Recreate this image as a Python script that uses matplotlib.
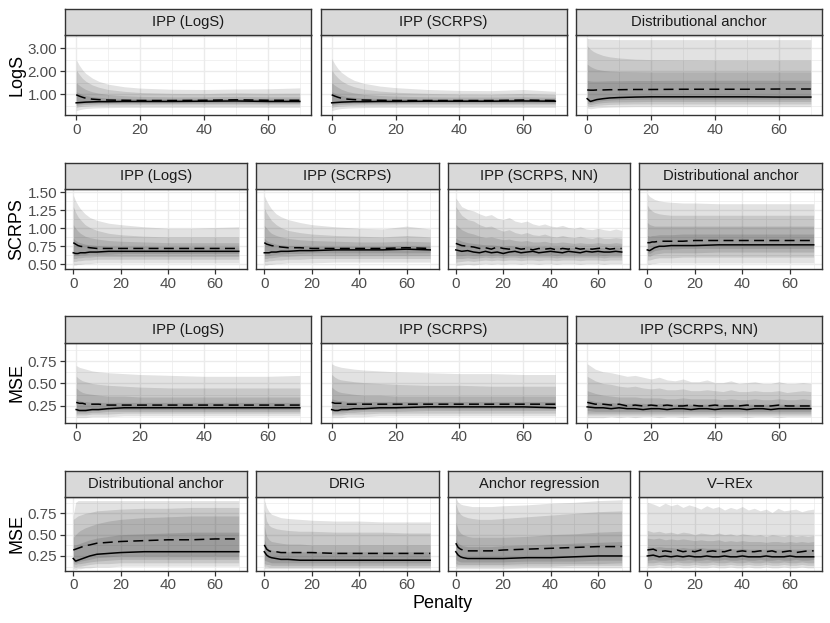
import matplotlib.pyplot as plt
from matplotlib.ticker import FixedLocator, FormatStrFormatter

plt.rcParams['font.family'] = ['Liberation Sans', 'DejaVu Sans']

# Penalty grid (smooth fits) and the finer grid of the neural-net / V-REx runs
penalty = [0, 1, 2, 3, 5, 7, 10, 15, 20, 30, 40, 50, 60, 70]
penalty_nn = [0, 2.5, 5, 7.5, 10, 12.5, 15, 17.5, 20, 22.5, 25, 27.5, 30, 32.5,
              35, 37.5, 40, 42.5, 45, 47.5, 50, 52.5, 55, 57.5, 60, 62.5, 65, 67.5, 70]

row_labels = ['LogS', 'SCRPS', 'MSE', 'MSE']
row1_titles = ['IPP (LogS)', 'IPP (SCRPS)', 'Distributional anchor']
row2_titles = ['IPP (LogS)', 'IPP (SCRPS)', 'IPP (SCRPS, NN)', 'Distributional anchor']
row3_titles = ['IPP (LogS)', 'IPP (SCRPS)', 'IPP (SCRPS, NN)']
row4_titles = ['Distributional anchor', 'DRIG', 'Anchor regression', 'V\u2212REx']

# ---------- row 1: LogS ----------
# quantile bands, outer to inner
logs_ipp_logs_upper = [
    [2.50, 2.25, 2.05, 1.90, 1.70, 1.56, 1.43, 1.32, 1.26, 1.21, 1.20, 1.22, 1.23, 1.27],
    [2.05, 1.85, 1.68, 1.56, 1.40, 1.30, 1.20, 1.12, 1.07, 1.03, 1.02, 1.05, 1.03, 1.04],
    [1.50, 1.38, 1.28, 1.20, 1.10, 1.04, 0.98, 0.93, 0.90, 0.88, 0.88, 0.90, 0.88, 0.88],
    [1.10, 1.03, 0.98, 0.94, 0.89, 0.86, 0.83, 0.81, 0.80, 0.79, 0.79, 0.81, 0.79, 0.79]]
logs_ipp_logs_lower = [
    [0.28, 0.32, 0.35, 0.37, 0.39, 0.40, 0.41, 0.42, 0.42, 0.42, 0.42, 0.42, 0.42, 0.42],
    [0.42, 0.45, 0.47, 0.48, 0.50, 0.51, 0.52, 0.52, 0.53, 0.53, 0.53, 0.53, 0.53, 0.53],
    [0.50, 0.52, 0.54, 0.55, 0.56, 0.57, 0.58, 0.58, 0.58, 0.59, 0.59, 0.59, 0.59, 0.59],
    [0.56, 0.58, 0.59, 0.60, 0.61, 0.62, 0.62, 0.63, 0.63, 0.63, 0.63, 0.64, 0.63, 0.63]]
logs_ipp_logs_median = [0.62, 0.63, 0.64, 0.65, 0.66, 0.67, 0.67, 0.68, 0.68, 0.68, 0.69, 0.70, 0.68, 0.68]
logs_ipp_logs_mean = [0.97, 0.91, 0.86, 0.82, 0.78, 0.76, 0.74, 0.73, 0.72, 0.72, 0.73, 0.75, 0.73, 0.73]

logs_ipp_scrps_upper = [
    [2.55, 2.30, 2.10, 1.95, 1.75, 1.60, 1.47, 1.35, 1.28, 1.20, 1.16, 1.15, 1.20, 1.12],
    [2.05, 1.85, 1.70, 1.58, 1.42, 1.32, 1.22, 1.13, 1.08, 1.03, 1.00, 0.99, 1.03, 0.98],
    [1.50, 1.38, 1.29, 1.21, 1.11, 1.05, 0.99, 0.94, 0.91, 0.88, 0.87, 0.87, 0.88, 0.86],
    [1.10, 1.03, 0.98, 0.94, 0.89, 0.86, 0.83, 0.81, 0.80, 0.79, 0.78, 0.78, 0.79, 0.78]]
logs_ipp_scrps_lower = [
    [0.28, 0.32, 0.35, 0.37, 0.39, 0.40, 0.41, 0.42, 0.42, 0.42, 0.42, 0.42, 0.42, 0.42],
    [0.42, 0.45, 0.47, 0.48, 0.50, 0.51, 0.52, 0.52, 0.53, 0.53, 0.53, 0.53, 0.53, 0.53],
    [0.50, 0.52, 0.54, 0.55, 0.56, 0.57, 0.58, 0.58, 0.59, 0.59, 0.59, 0.59, 0.59, 0.59],
    [0.56, 0.58, 0.59, 0.60, 0.61, 0.62, 0.62, 0.63, 0.63, 0.64, 0.64, 0.64, 0.64, 0.64]]
logs_ipp_scrps_median = [0.62, 0.63, 0.64, 0.65, 0.66, 0.67, 0.67, 0.68, 0.68, 0.69, 0.69, 0.69, 0.70, 0.69]
logs_ipp_scrps_mean = [0.97, 0.91, 0.86, 0.82, 0.78, 0.76, 0.74, 0.73, 0.72, 0.72, 0.72, 0.72, 0.74, 0.72]

logs_anchor_upper = [
    [3.42, 3.40, 3.39, 3.39, 3.38, 3.38, 3.37, 3.37, 3.37, 3.37, 3.37, 3.37, 3.37, 3.37],
    [3.10, 2.95, 2.85, 2.78, 2.68, 2.62, 2.57, 2.52, 2.50, 2.49, 2.48, 2.48, 2.48, 2.48],
    [2.30, 2.20, 2.13, 2.08, 2.03, 2.00, 1.98, 1.97, 1.96, 1.96, 1.96, 1.96, 1.96, 1.96],
    [1.60, 1.57, 1.56, 1.56, 1.57, 1.58, 1.58, 1.59, 1.59, 1.60, 1.60, 1.60, 1.60, 1.60]]
logs_anchor_lower = [
    [0.40, 0.36, 0.38, 0.40, 0.42, 0.43, 0.44, 0.45, 0.45, 0.45, 0.45, 0.45, 0.45, 0.45],
    [0.50, 0.46, 0.49, 0.51, 0.53, 0.55, 0.56, 0.57, 0.57, 0.57, 0.57, 0.57, 0.57, 0.57],
    [0.60, 0.54, 0.57, 0.60, 0.63, 0.65, 0.66, 0.67, 0.68, 0.68, 0.68, 0.68, 0.68, 0.68],
    [0.70, 0.62, 0.65, 0.68, 0.72, 0.74, 0.76, 0.77, 0.78, 0.78, 0.78, 0.78, 0.78, 0.78]]
logs_anchor_median = [0.80, 0.68, 0.72, 0.76, 0.80, 0.83, 0.85, 0.87, 0.88, 0.88, 0.88, 0.88, 0.87, 0.87]
logs_anchor_mean = [1.18, 1.17, 1.17, 1.18, 1.18, 1.19, 1.19, 1.20, 1.20, 1.21, 1.21, 1.21, 1.22, 1.22]

# ---------- row 2: SCRPS ----------
scrps_ipp_logs_upper = [
    [1.46, 1.38, 1.32, 1.27, 1.20, 1.15, 1.11, 1.07, 1.05, 1.02, 1.00, 1.00, 1.01, 1.02],
    [1.30, 1.22, 1.16, 1.12, 1.05, 1.01, 0.97, 0.93, 0.91, 0.89, 0.88, 0.88, 0.88, 0.88],
    [1.05, 1.00, 0.96, 0.93, 0.89, 0.87, 0.85, 0.83, 0.82, 0.81, 0.80, 0.80, 0.80, 0.80],
    [0.86, 0.83, 0.81, 0.80, 0.78, 0.77, 0.76, 0.75, 0.75, 0.75, 0.74, 0.74, 0.74, 0.74]]
scrps_ipp_logs_lower = [
    [0.49, 0.49, 0.50, 0.50, 0.51, 0.51, 0.52, 0.52, 0.52, 0.52, 0.52, 0.52, 0.52, 0.52],
    [0.54, 0.54, 0.55, 0.55, 0.56, 0.56, 0.57, 0.57, 0.57, 0.57, 0.57, 0.57, 0.57, 0.57],
    [0.58, 0.58, 0.59, 0.59, 0.60, 0.60, 0.61, 0.61, 0.61, 0.61, 0.61, 0.61, 0.61, 0.61],
    [0.62, 0.62, 0.62, 0.63, 0.63, 0.64, 0.64, 0.64, 0.65, 0.65, 0.65, 0.65, 0.65, 0.65]]
scrps_ipp_logs_median = [0.66, 0.65, 0.65, 0.66, 0.66, 0.67, 0.67, 0.68, 0.68, 0.68, 0.68, 0.68, 0.68, 0.68]
scrps_ipp_logs_mean = [0.80, 0.78, 0.76, 0.75, 0.74, 0.73, 0.72, 0.72, 0.72, 0.72, 0.72, 0.72, 0.72, 0.72]

scrps_ipp_scrps_upper = [
    [1.45, 1.38, 1.32, 1.27, 1.20, 1.16, 1.12, 1.08, 1.05, 1.02, 1.00, 0.99, 1.03, 0.99],
    [1.28, 1.21, 1.16, 1.11, 1.05, 1.01, 0.97, 0.94, 0.92, 0.90, 0.89, 0.88, 0.90, 0.88],
    [1.04, 1.00, 0.96, 0.93, 0.90, 0.88, 0.86, 0.84, 0.83, 0.82, 0.81, 0.81, 0.82, 0.81],
    [0.86, 0.83, 0.81, 0.80, 0.78, 0.77, 0.76, 0.76, 0.75, 0.75, 0.75, 0.75, 0.76, 0.75]]
scrps_ipp_scrps_lower = [
    [0.49, 0.49, 0.50, 0.50, 0.51, 0.51, 0.52, 0.52, 0.52, 0.53, 0.53, 0.53, 0.53, 0.53],
    [0.54, 0.54, 0.55, 0.55, 0.56, 0.56, 0.57, 0.57, 0.58, 0.58, 0.58, 0.58, 0.58, 0.58],
    [0.58, 0.58, 0.59, 0.59, 0.60, 0.61, 0.61, 0.62, 0.62, 0.62, 0.62, 0.62, 0.62, 0.62],
    [0.62, 0.62, 0.62, 0.63, 0.64, 0.64, 0.65, 0.65, 0.66, 0.66, 0.66, 0.66, 0.66, 0.66]]
scrps_ipp_scrps_median = [0.66, 0.66, 0.66, 0.67, 0.67, 0.68, 0.68, 0.69, 0.69, 0.70, 0.70, 0.70, 0.71, 0.70]
scrps_ipp_scrps_mean = [0.80, 0.78, 0.77, 0.76, 0.75, 0.74, 0.73, 0.73, 0.72, 0.72, 0.72, 0.72, 0.73, 0.72]

scrps_nn_upper = [
    [1.42, 1.30, 1.26, 1.24, 1.20, 1.17, 1.19, 1.14, 1.12, 1.15, 1.10, 1.08, 1.10, 1.06, 1.04,
     1.06, 1.03, 1.02, 1.04, 1.01, 1.00, 1.02, 0.99, 0.98, 1.00, 0.98, 0.97, 0.99, 0.97],
    [1.30, 1.18, 1.12, 1.10, 1.05, 1.02, 1.03, 0.99, 0.96, 0.98, 0.94, 0.92, 0.94, 0.91, 0.90,
     0.92, 0.89, 0.88, 0.90, 0.88, 0.87, 0.89, 0.87, 0.86, 0.88, 0.86, 0.86, 0.87, 0.86],
    [1.05, 0.98, 0.94, 0.92, 0.89, 0.87, 0.88, 0.86, 0.84, 0.85, 0.83, 0.82, 0.83, 0.81, 0.81,
     0.82, 0.80, 0.80, 0.81, 0.80, 0.79, 0.80, 0.79, 0.79, 0.80, 0.79, 0.79, 0.80, 0.79],
    [0.86, 0.82, 0.80, 0.79, 0.78, 0.77, 0.77, 0.76, 0.75, 0.76, 0.75, 0.74, 0.75, 0.74, 0.74,
     0.75, 0.74, 0.74, 0.74, 0.74, 0.73, 0.74, 0.73, 0.73, 0.74, 0.73, 0.73, 0.74, 0.73]]
scrps_nn_lower = [
    [0.48, 0.49, 0.50, 0.49, 0.50, 0.51, 0.50, 0.51, 0.50, 0.51, 0.51, 0.50, 0.51, 0.51, 0.50,
     0.51, 0.51, 0.50, 0.51, 0.51, 0.51, 0.50, 0.51, 0.51, 0.51, 0.50, 0.51, 0.51, 0.51],
    [0.53, 0.54, 0.55, 0.54, 0.55, 0.56, 0.55, 0.56, 0.55, 0.56, 0.56, 0.55, 0.56, 0.56, 0.55,
     0.56, 0.56, 0.55, 0.56, 0.56, 0.56, 0.55, 0.56, 0.56, 0.56, 0.55, 0.56, 0.56, 0.56],
    [0.58, 0.58, 0.59, 0.58, 0.59, 0.60, 0.59, 0.60, 0.59, 0.60, 0.60, 0.59, 0.60, 0.60, 0.60,
     0.60, 0.60, 0.59, 0.60, 0.60, 0.60, 0.60, 0.60, 0.60, 0.60, 0.59, 0.60, 0.60, 0.60],
    [0.62, 0.62, 0.63, 0.62, 0.62, 0.63, 0.62, 0.63, 0.62, 0.63, 0.63, 0.62, 0.63, 0.63, 0.63,
     0.63, 0.63, 0.62, 0.63, 0.63, 0.63, 0.63, 0.63, 0.63, 0.63, 0.62, 0.63, 0.63, 0.63]]
scrps_nn_median = [0.70, 0.68, 0.69, 0.67, 0.66, 0.68, 0.66, 0.67, 0.65, 0.67, 0.68, 0.66, 0.67, 0.68, 0.66,
                   0.67, 0.68, 0.67, 0.66, 0.68, 0.67, 0.66, 0.68, 0.67, 0.68, 0.67, 0.67, 0.68, 0.67]
scrps_nn_mean = [0.79, 0.76, 0.75, 0.74, 0.72, 0.73, 0.71, 0.74, 0.72, 0.71, 0.73, 0.71, 0.72, 0.70, 0.72,
                 0.71, 0.72, 0.70, 0.72, 0.71, 0.73, 0.71, 0.72, 0.71, 0.72, 0.73, 0.71, 0.72, 0.72]

scrps_anchor_upper = [
    [1.48, 1.44, 1.42, 1.40, 1.38, 1.37, 1.36, 1.35, 1.35, 1.34, 1.34, 1.34, 1.34, 1.34],
    [1.32, 1.27, 1.24, 1.22, 1.20, 1.19, 1.18, 1.18, 1.18, 1.18, 1.18, 1.18, 1.18, 1.18],
    [1.08, 1.05, 1.04, 1.03, 1.03, 1.03, 1.03, 1.03, 1.03, 1.03, 1.03, 1.03, 1.03, 1.03],
    [0.90, 0.89, 0.90, 0.90, 0.91, 0.91, 0.91, 0.92, 0.92, 0.92, 0.92, 0.92, 0.92, 0.92]]
scrps_anchor_lower = [
    [0.50, 0.50, 0.51, 0.51, 0.52, 0.52, 0.52, 0.52, 0.52, 0.52, 0.52, 0.52, 0.52, 0.52],
    [0.56, 0.56, 0.57, 0.58, 0.59, 0.59, 0.59, 0.60, 0.60, 0.60, 0.60, 0.60, 0.60, 0.60],
    [0.62, 0.61, 0.63, 0.64, 0.65, 0.66, 0.66, 0.66, 0.66, 0.67, 0.67, 0.67, 0.67, 0.67],
    [0.66, 0.65, 0.67, 0.69, 0.70, 0.71, 0.71, 0.72, 0.72, 0.72, 0.72, 0.72, 0.72, 0.72]]
scrps_anchor_median = [0.70, 0.69, 0.71, 0.73, 0.75, 0.75, 0.76, 0.76, 0.76, 0.77, 0.77, 0.77, 0.77, 0.77]
scrps_anchor_mean = [0.80, 0.80, 0.81, 0.81, 0.82, 0.82, 0.82, 0.82, 0.83, 0.83, 0.83, 0.83, 0.83, 0.83]

# ---------- row 3: MSE (IPP variants) ----------
mse_ipp_logs_upper = [
    [0.70, 0.68, 0.67, 0.66, 0.64, 0.63, 0.62, 0.61, 0.60, 0.59, 0.58, 0.58, 0.58, 0.59],
    [0.58, 0.55, 0.53, 0.52, 0.50, 0.49, 0.48, 0.47, 0.46, 0.45, 0.45, 0.45, 0.45, 0.45],
    [0.45, 0.42, 0.40, 0.39, 0.38, 0.37, 0.36, 0.36, 0.35, 0.35, 0.35, 0.35, 0.35, 0.35],
    [0.33, 0.31, 0.30, 0.30, 0.29, 0.29, 0.29, 0.29, 0.29, 0.29, 0.29, 0.29, 0.29, 0.29]]
mse_ipp_logs_lower = [
    [0.12, 0.12, 0.12, 0.12, 0.13, 0.13, 0.13, 0.14, 0.14, 0.14, 0.14, 0.14, 0.14, 0.14],
    [0.15, 0.15, 0.15, 0.15, 0.16, 0.16, 0.16, 0.17, 0.17, 0.17, 0.17, 0.17, 0.17, 0.17],
    [0.17, 0.17, 0.17, 0.17, 0.18, 0.18, 0.19, 0.19, 0.19, 0.19, 0.19, 0.19, 0.19, 0.19],
    [0.19, 0.19, 0.19, 0.19, 0.20, 0.20, 0.21, 0.21, 0.21, 0.21, 0.21, 0.21, 0.21, 0.21]]
mse_ipp_logs_median = [0.21, 0.20, 0.20, 0.20, 0.21, 0.21, 0.22, 0.23, 0.23, 0.23, 0.23, 0.23, 0.23, 0.23]
mse_ipp_logs_mean = [0.29, 0.28, 0.28, 0.27, 0.27, 0.27, 0.26, 0.26, 0.26, 0.26, 0.26, 0.26, 0.26, 0.26]

mse_ipp_scrps_upper = [
    [0.72, 0.70, 0.69, 0.68, 0.67, 0.66, 0.65, 0.64, 0.63, 0.62, 0.61, 0.61, 0.60, 0.60],
    [0.60, 0.57, 0.55, 0.54, 0.53, 0.52, 0.51, 0.50, 0.49, 0.48, 0.48, 0.47, 0.47, 0.47],
    [0.46, 0.43, 0.41, 0.40, 0.39, 0.38, 0.37, 0.37, 0.36, 0.36, 0.36, 0.36, 0.36, 0.36],
    [0.33, 0.32, 0.31, 0.31, 0.30, 0.30, 0.30, 0.30, 0.30, 0.30, 0.30, 0.30, 0.30, 0.30]]
mse_ipp_scrps_lower = [
    [0.12, 0.12, 0.12, 0.12, 0.13, 0.13, 0.13, 0.14, 0.14, 0.14, 0.14, 0.14, 0.14, 0.14],
    [0.15, 0.15, 0.15, 0.15, 0.16, 0.16, 0.16, 0.17, 0.17, 0.17, 0.17, 0.17, 0.17, 0.17],
    [0.17, 0.17, 0.17, 0.17, 0.18, 0.18, 0.19, 0.19, 0.19, 0.20, 0.20, 0.20, 0.20, 0.20],
    [0.19, 0.19, 0.19, 0.19, 0.20, 0.20, 0.21, 0.21, 0.22, 0.22, 0.22, 0.22, 0.22, 0.22]]
mse_ipp_scrps_median = [0.21, 0.20, 0.20, 0.21, 0.21, 0.22, 0.22, 0.23, 0.23, 0.24, 0.24, 0.24, 0.24, 0.23]
mse_ipp_scrps_mean = [0.29, 0.28, 0.28, 0.28, 0.27, 0.27, 0.27, 0.27, 0.27, 0.27, 0.27, 0.27, 0.27, 0.27]

mse_nn_upper = [
    [0.72, 0.66, 0.63, 0.62, 0.60, 0.58, 0.59, 0.57, 0.55, 0.57, 0.54, 0.53, 0.55, 0.52, 0.52,
     0.54, 0.51, 0.51, 0.53, 0.50, 0.51, 0.52, 0.50, 0.50, 0.52, 0.50, 0.50, 0.51, 0.50],
    [0.58, 0.53, 0.50, 0.49, 0.47, 0.46, 0.47, 0.45, 0.44, 0.45, 0.43, 0.43, 0.44, 0.42, 0.42,
     0.43, 0.42, 0.41, 0.43, 0.41, 0.41, 0.42, 0.41, 0.41, 0.42, 0.40, 0.41, 0.42, 0.41],
    [0.42, 0.39, 0.37, 0.36, 0.35, 0.35, 0.35, 0.34, 0.34, 0.34, 0.33, 0.33, 0.34, 0.33, 0.33,
     0.33, 0.33, 0.32, 0.33, 0.32, 0.32, 0.33, 0.32, 0.32, 0.33, 0.32, 0.32, 0.33, 0.32],
    [0.32, 0.30, 0.29, 0.29, 0.28, 0.28, 0.28, 0.28, 0.27, 0.28, 0.27, 0.27, 0.28, 0.27, 0.27,
     0.27, 0.27, 0.27, 0.27, 0.27, 0.27, 0.27, 0.27, 0.27, 0.27, 0.27, 0.27, 0.27, 0.27]]
mse_nn_lower = [
    [0.12, 0.12, 0.12, 0.13, 0.12, 0.13, 0.12, 0.13, 0.13, 0.12, 0.13, 0.13, 0.12, 0.13, 0.13,
     0.13, 0.12, 0.13, 0.13, 0.13, 0.12, 0.13, 0.13, 0.13, 0.12, 0.13, 0.13, 0.13, 0.13],
    [0.15, 0.15, 0.15, 0.15, 0.15, 0.15, 0.15, 0.15, 0.15, 0.15, 0.15, 0.15, 0.15, 0.15, 0.15,
     0.15, 0.15, 0.15, 0.15, 0.15, 0.15, 0.15, 0.15, 0.15, 0.15, 0.15, 0.15, 0.15, 0.15],
    [0.17, 0.17, 0.17, 0.17, 0.17, 0.17, 0.17, 0.17, 0.17, 0.17, 0.17, 0.17, 0.17, 0.17, 0.17,
     0.17, 0.17, 0.17, 0.17, 0.17, 0.17, 0.17, 0.17, 0.17, 0.17, 0.17, 0.17, 0.17, 0.17],
    [0.20, 0.19, 0.19, 0.19, 0.19, 0.19, 0.19, 0.19, 0.19, 0.19, 0.19, 0.19, 0.19, 0.19, 0.19,
     0.19, 0.19, 0.19, 0.19, 0.19, 0.19, 0.19, 0.19, 0.19, 0.19, 0.19, 0.19, 0.19, 0.19]]
mse_nn_median = [0.24, 0.23, 0.23, 0.22, 0.23, 0.22, 0.22, 0.21, 0.22, 0.22, 0.21, 0.22, 0.22, 0.21, 0.22,
                 0.22, 0.21, 0.22, 0.22, 0.22, 0.21, 0.22, 0.22, 0.21, 0.22, 0.22, 0.22, 0.22, 0.22]
mse_nn_mean = [0.29, 0.27, 0.27, 0.26, 0.27, 0.25, 0.26, 0.25, 0.26, 0.25, 0.26, 0.25, 0.25, 0.26, 0.25,
               0.25, 0.26, 0.25, 0.25, 0.25, 0.26, 0.25, 0.25, 0.25, 0.26, 0.25, 0.25, 0.25, 0.25]

# ---------- row 4: MSE (benchmarks) ----------
mse_anchor_upper = [
    [0.72, 0.88, 0.90, 0.90, 0.90, 0.90, 0.90, 0.90, 0.90, 0.90, 0.90, 0.90, 0.90, 0.90],
    [0.68, 0.70, 0.72, 0.73, 0.75, 0.76, 0.78, 0.79, 0.80, 0.81, 0.81, 0.82, 0.82, 0.82],
    [0.47, 0.50, 0.53, 0.55, 0.58, 0.60, 0.63, 0.66, 0.68, 0.70, 0.71, 0.72, 0.72, 0.72],
    [0.38, 0.38, 0.39, 0.40, 0.42, 0.44, 0.46, 0.48, 0.50, 0.51, 0.52, 0.53, 0.53, 0.53]]
mse_anchor_lower = [
    [0.10, 0.09, 0.10, 0.10, 0.11, 0.11, 0.12, 0.12, 0.13, 0.13, 0.13, 0.13, 0.13, 0.13],
    [0.13, 0.12, 0.13, 0.13, 0.14, 0.15, 0.16, 0.16, 0.17, 0.17, 0.17, 0.17, 0.17, 0.17],
    [0.16, 0.15, 0.16, 0.16, 0.17, 0.18, 0.19, 0.20, 0.21, 0.21, 0.21, 0.21, 0.21, 0.21],
    [0.19, 0.17, 0.18, 0.19, 0.20, 0.21, 0.23, 0.24, 0.25, 0.25, 0.25, 0.25, 0.25, 0.25]]
mse_anchor_median = [0.22, 0.19, 0.20, 0.21, 0.23, 0.25, 0.27, 0.28, 0.29, 0.30, 0.30, 0.30, 0.30, 0.30]
mse_anchor_mean = [0.32, 0.33, 0.34, 0.35, 0.37, 0.38, 0.40, 0.41, 0.42, 0.43, 0.44, 0.44, 0.45, 0.45]

mse_drig_upper = [
    [0.91, 0.82, 0.77, 0.74, 0.72, 0.70, 0.69, 0.68, 0.67, 0.66, 0.66, 0.65, 0.65, 0.65],
    [0.80, 0.66, 0.61, 0.59, 0.57, 0.56, 0.55, 0.54, 0.54, 0.53, 0.53, 0.53, 0.52, 0.52],
    [0.60, 0.48, 0.44, 0.42, 0.41, 0.40, 0.39, 0.39, 0.38, 0.38, 0.38, 0.38, 0.38, 0.38],
    [0.45, 0.36, 0.33, 0.32, 0.31, 0.30, 0.30, 0.30, 0.30, 0.30, 0.30, 0.30, 0.30, 0.30]]
mse_drig_lower = [
    [0.10, 0.10, 0.10, 0.10, 0.10, 0.10, 0.10, 0.10, 0.10, 0.10, 0.10, 0.10, 0.10, 0.10],
    [0.13, 0.13, 0.12, 0.12, 0.12, 0.12, 0.12, 0.12, 0.12, 0.12, 0.12, 0.12, 0.12, 0.12],
    [0.16, 0.15, 0.15, 0.14, 0.14, 0.14, 0.14, 0.14, 0.14, 0.14, 0.14, 0.14, 0.14, 0.14],
    [0.20, 0.19, 0.18, 0.17, 0.17, 0.17, 0.17, 0.17, 0.17, 0.17, 0.17, 0.17, 0.17, 0.17]]
mse_drig_median = [0.30, 0.26, 0.24, 0.23, 0.22, 0.21, 0.21, 0.20, 0.20, 0.20, 0.20, 0.20, 0.20, 0.20]
mse_drig_mean = [0.38, 0.33, 0.31, 0.30, 0.30, 0.29, 0.29, 0.29, 0.29, 0.28, 0.28, 0.28, 0.28, 0.28]

mse_ar_upper = [
    [0.93, 0.88, 0.86, 0.85, 0.84, 0.83, 0.83, 0.83, 0.84, 0.85, 0.87, 0.88, 0.90, 0.91],
    [0.86, 0.78, 0.74, 0.72, 0.70, 0.69, 0.68, 0.68, 0.69, 0.71, 0.73, 0.75, 0.77, 0.78],
    [0.65, 0.56, 0.52, 0.50, 0.48, 0.47, 0.47, 0.47, 0.47, 0.48, 0.50, 0.51, 0.53, 0.54],
    [0.45, 0.40, 0.38, 0.37, 0.36, 0.36, 0.36, 0.36, 0.37, 0.38, 0.39, 0.40, 0.41, 0.42]]
mse_ar_lower = [
    [0.10, 0.10, 0.10, 0.10, 0.10, 0.10, 0.10, 0.10, 0.10, 0.11, 0.11, 0.11, 0.11, 0.11],
    [0.13, 0.13, 0.13, 0.13, 0.13, 0.13, 0.13, 0.13, 0.13, 0.13, 0.13, 0.14, 0.14, 0.14],
    [0.16, 0.15, 0.15, 0.15, 0.15, 0.15, 0.15, 0.15, 0.15, 0.16, 0.16, 0.16, 0.16, 0.17],
    [0.21, 0.19, 0.18, 0.18, 0.18, 0.18, 0.18, 0.18, 0.18, 0.19, 0.19, 0.19, 0.20, 0.20]]
mse_ar_median = [0.30, 0.26, 0.24, 0.23, 0.22, 0.22, 0.22, 0.22, 0.22, 0.23, 0.23, 0.24, 0.25, 0.25]
mse_ar_mean = [0.40, 0.35, 0.33, 0.32, 0.31, 0.31, 0.31, 0.31, 0.32, 0.33, 0.34, 0.35, 0.36, 0.36]

mse_vrex_upper = [
    [0.88, 0.86, 0.83, 0.87, 0.84, 0.86, 0.82, 0.85, 0.83, 0.80, 0.84, 0.81, 0.83, 0.79, 0.82,
     0.80, 0.83, 0.79, 0.81, 0.78, 0.80, 0.76, 0.81, 0.78, 0.79, 0.80, 0.77, 0.79, 0.80],
    [0.55, 0.53, 0.54, 0.52, 0.53, 0.51, 0.53, 0.52, 0.50, 0.52, 0.51, 0.50, 0.52, 0.50, 0.51,
     0.49, 0.51, 0.50, 0.49, 0.50, 0.48, 0.50, 0.49, 0.48, 0.50, 0.48, 0.49, 0.48, 0.49],
    [0.46, 0.45, 0.46, 0.44, 0.45, 0.44, 0.45, 0.44, 0.43, 0.44, 0.43, 0.43, 0.44, 0.42, 0.43,
     0.42, 0.43, 0.42, 0.42, 0.42, 0.41, 0.42, 0.42, 0.41, 0.42, 0.41, 0.42, 0.41, 0.42],
    [0.36, 0.35, 0.36, 0.35, 0.35, 0.34, 0.35, 0.34, 0.34, 0.35, 0.34, 0.34, 0.34, 0.33, 0.34,
     0.33, 0.34, 0.33, 0.33, 0.33, 0.33, 0.33, 0.33, 0.33, 0.33, 0.33, 0.33, 0.33, 0.33]]
mse_vrex_lower = [
    [0.11, 0.11, 0.12, 0.11, 0.11, 0.12, 0.11, 0.11, 0.12, 0.11, 0.11, 0.12, 0.11, 0.11, 0.12,
     0.11, 0.11, 0.12, 0.11, 0.11, 0.12, 0.11, 0.11, 0.12, 0.11, 0.11, 0.12, 0.11, 0.11],
    [0.14, 0.14, 0.15, 0.14, 0.14, 0.15, 0.14, 0.14, 0.15, 0.14, 0.14, 0.15, 0.14, 0.14, 0.15,
     0.14, 0.14, 0.15, 0.14, 0.14, 0.15, 0.14, 0.14, 0.15, 0.14, 0.14, 0.15, 0.14, 0.14],
    [0.17, 0.17, 0.18, 0.17, 0.17, 0.18, 0.17, 0.17, 0.18, 0.17, 0.17, 0.18, 0.17, 0.17, 0.18,
     0.17, 0.17, 0.18, 0.17, 0.17, 0.18, 0.17, 0.17, 0.18, 0.17, 0.17, 0.18, 0.17, 0.17],
    [0.20, 0.21, 0.20, 0.20, 0.21, 0.20, 0.20, 0.21, 0.20, 0.20, 0.21, 0.20, 0.20, 0.21, 0.20,
     0.20, 0.21, 0.20, 0.20, 0.21, 0.20, 0.20, 0.21, 0.20, 0.20, 0.21, 0.20, 0.20, 0.21]]
mse_vrex_median = [0.25, 0.26, 0.24, 0.25, 0.24, 0.25, 0.24, 0.25, 0.24, 0.24, 0.25, 0.24, 0.24, 0.25, 0.24,
                   0.24, 0.25, 0.24, 0.24, 0.24, 0.25, 0.24, 0.24, 0.24, 0.25, 0.24, 0.24, 0.24, 0.24]
mse_vrex_mean = [0.32, 0.33, 0.30, 0.31, 0.30, 0.32, 0.30, 0.31, 0.30, 0.32, 0.30, 0.31, 0.30, 0.30, 0.32,
                 0.30, 0.31, 0.30, 0.30, 0.31, 0.30, 0.31, 0.29, 0.30, 0.31, 0.29, 0.30, 0.31, 0.31]

# ---------- layout (pixels of the 830 x 623 canvas) ----------
W, H = 830, 623
cols3 = [(65, 311), (320.5, 566.5), (576, 822)]
cols4 = [(65, 247), (256, 438.5), (447.5, 630), (639, 822)]
# (strip top, panel top, panel bottom)
rows_px = [(8.5, 35, 115), (162.5, 189.3, 269), (316, 343.3, 422.7), (470.5, 496.7, 570.7)]

rows = [
    dict(cols=cols3, titles=row1_titles, ylim=(0.09, 3.57), yticks=[1, 2, 3],
         yminor=[0.5, 1.5, 2.5, 3.5], fmt='%.2f',
         panels=[(penalty, logs_ipp_logs_upper, logs_ipp_logs_lower, logs_ipp_logs_median, logs_ipp_logs_mean),
                 (penalty, logs_ipp_scrps_upper, logs_ipp_scrps_lower, logs_ipp_scrps_median, logs_ipp_scrps_mean),
                 (penalty, logs_anchor_upper, logs_anchor_lower, logs_anchor_median, logs_anchor_mean)]),
    dict(cols=cols4, titles=row2_titles, ylim=(0.435, 1.54), yticks=[0.5, 0.75, 1.0, 1.25, 1.5],
         yminor=[0.625, 0.875, 1.125, 1.375], fmt='%.2f',
         panels=[(penalty, scrps_ipp_logs_upper, scrps_ipp_logs_lower, scrps_ipp_logs_median, scrps_ipp_logs_mean),
                 (penalty, scrps_ipp_scrps_upper, scrps_ipp_scrps_lower, scrps_ipp_scrps_median, scrps_ipp_scrps_mean),
                 (penalty_nn, scrps_nn_upper, scrps_nn_lower, scrps_nn_median, scrps_nn_mean),
                 (penalty, scrps_anchor_upper, scrps_anchor_lower, scrps_anchor_median, scrps_anchor_mean)]),
    dict(cols=cols3, titles=row3_titles, ylim=(0.064, 0.947), yticks=[0.25, 0.5, 0.75],
         yminor=[0.125, 0.375, 0.625, 0.875], fmt='%.2f',
         panels=[(penalty, mse_ipp_logs_upper, mse_ipp_logs_lower, mse_ipp_logs_median, mse_ipp_logs_mean),
                 (penalty, mse_ipp_scrps_upper, mse_ipp_scrps_lower, mse_ipp_scrps_median, mse_ipp_scrps_mean),
                 (penalty_nn, mse_nn_upper, mse_nn_lower, mse_nn_median, mse_nn_mean)]),
    dict(cols=cols4, titles=row4_titles, ylim=(0.077, 0.946), yticks=[0.25, 0.5, 0.75],
         yminor=[0.125, 0.375, 0.625, 0.875], fmt='%.2f',
         panels=[(penalty, mse_anchor_upper, mse_anchor_lower, mse_anchor_median, mse_anchor_mean),
                 (penalty, mse_drig_upper, mse_drig_lower, mse_drig_median, mse_drig_mean),
                 (penalty, mse_ar_upper, mse_ar_lower, mse_ar_median, mse_ar_mean),
                 (penalty_nn, mse_vrex_upper, mse_vrex_lower, mse_vrex_median, mse_vrex_mean)]),
]


def box(left, right, top, bottom):
    return [left / W, 1 - bottom / H, (right - left) / W, (bottom - top) / H]


fig = plt.figure(figsize=(W / 100, H / 100), dpi=100)

for r, row in enumerate(rows):
    s_top, p_top, p_bot = rows_px[r]
    for c, (x, upper, lower, median, mean) in enumerate(row['panels']):
        left, right = row['cols'][c]
        ax = fig.add_axes(box(left, right, p_top, p_bot))

        # nested quantile bands, outer first
        for lo, up in zip(lower, upper):
            ax.fill_between(x, lo, up, color='black', alpha=0.115, lw=0)
        ax.plot(x, median, color='black', lw=1.1)
        ax.plot(x, mean, color='black', lw=1.1, dashes=(6.5, 3.5))

        ax.set_xlim(-3.5, 73.5)
        ax.set_ylim(*row['ylim'])
        ax.xaxis.set_major_locator(FixedLocator([0, 20, 40, 60]))
        ax.xaxis.set_minor_locator(FixedLocator([10, 30, 50, 70]))
        ax.yaxis.set_major_locator(FixedLocator(row['yticks']))
        ax.yaxis.set_minor_locator(FixedLocator(row['yminor']))
        ax.yaxis.set_major_formatter(FormatStrFormatter(row['fmt']))
        ax.grid(which='major', color='#EBEBEB', lw=1.0)
        ax.grid(which='minor', color='#EBEBEB', lw=0.5)
        ax.set_axisbelow(True)
        for sp in ax.spines.values():
            sp.set_color('#333333')
            sp.set_linewidth(1.0)
        ax.tick_params(which='major', direction='out', length=3.5, width=0.9,
                       color='#333333', labelcolor='#4D4D4D', labelsize=11, pad=2)
        ax.tick_params(which='minor', length=0)
        if c > 0:
            ax.tick_params(axis='y', which='major', left=False, labelleft=False)

        # facet strip
        st = fig.add_axes(box(left, right, s_top, p_top))
        st.set_facecolor('#D9D9D9')
        st.set_xticks([])
        st.set_yticks([])
        for sp in st.spines.values():
            sp.set_color('#333333')
            sp.set_linewidth(1.0)
        st.text(0.5, 0.5, row['titles'][c], ha='center', va='center',
                fontsize=10.6, color='#1A1A1A', transform=st.transAxes)

    fig.text(17 / W, 1 - (p_top + p_bot) / 2 / H, row_labels[r], rotation=90,
             ha='center', va='center', fontsize=13, color='black')

fig.text(443 / W, 1 - 603 / H, 'Penalty', ha='center', va='center', fontsize=13, color='black')

fig.savefig('out.png', dpi=100)
